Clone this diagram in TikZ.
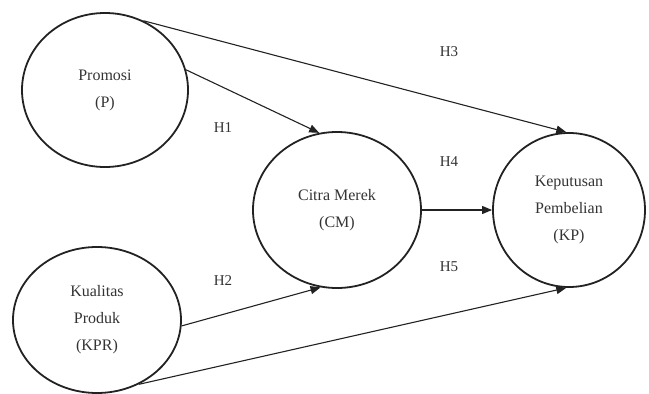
\documentclass[tikz,border=0pt]{standalone}
\usepackage{fontspec}
\setmainfont{Liberation Serif}
\usetikzlibrary{shapes.geometric,arrows.meta}
\definecolor{ink}{HTML}{222222}
\definecolor{txt}{HTML}{333333}
\begin{document}
\begin{tikzpicture}[x=1pt,y=-1pt,
  var/.style={ellipse,draw=ink,line width=1.8pt,inner sep=0pt,align=center,
    text=txt,font=\fontsize{16}{27}\selectfont},
  link/.style={draw=ink,line width=1.1pt,-{Triangle[length=10pt,width=8pt]}},
  hyp/.style={text=txt,font=\fontsize{15}{18}\selectfont}]
\useasboundingbox (0,0) rectangle (649,394);
\node[var,minimum width=166pt,minimum height=154pt] (P) at (105,90) {Promosi\\(P)};
\node[var,minimum width=168pt,minimum height=146pt] (KPR) at (97,320) {Kualitas\\Produk\\(KPR)};
\node[var,minimum width=168pt,minimum height=156pt] (CM) at (337,210) {Citra Merek\\(CM)};
\node[var,minimum width=152pt,minimum height=154pt] (KP) at (569,210) {Keputusan\\Pembelian\\(KP)};
\draw[link] (P.14) -- (CM.103);
\draw[link] (P.61) -- (KP.92);
\draw[link] (CM.east) -- (KP.west);
\draw[link] (KPR.-4) -- (CM.258);
\draw[link] (KPR.-57) -- (KP.-92);
\node[hyp] (h3) at (449,52) {H3};
\node[hyp] (h1) at (223,128) {H1};
\node[hyp] (h4) at (449,162) {H4};
\node[hyp] (h2) at (223,281) {H2};
\node[hyp] (h5) at (449,267) {H5};
\end{tikzpicture}
\end{document}
